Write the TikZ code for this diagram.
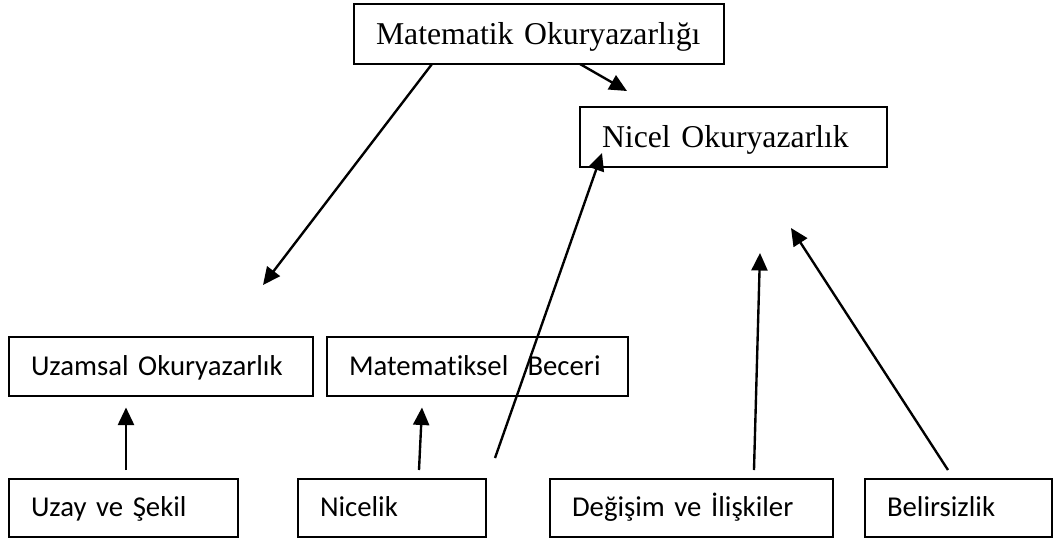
\documentclass[tikz,border=0pt]{standalone}
\usepackage{fontspec}
\setmainfont{Liberation Serif}
\newfontfamily\calibri[Ligatures=NoCommon]{Carlito}
\usepackage{tikz}
\usetikzlibrary{calc}
\usetikzlibrary{arrows.meta}

\begin{document}
\begin{tikzpicture}[x=0.4pt,y=-0.4pt,>={Triangle[length=7pt,width=6.4pt]}]
        \tikzset{kutu/.style={draw, line width=0.8pt, outer sep=0pt, inner xsep=8.8pt, inner ysep=0pt,
                 align=left, anchor=north west, text width=#1},
        ust/.style={minimum height=24pt, text height=11pt, text depth=2.6pt, font=\fontsize{12.7}{15}\selectfont},
        alt/.style={minimum height=23.4pt, text height=9.1pt, text depth=2pt, font=\calibri\fontsize{11.5}{14}\selectfont},
        ok/.style={->, line width=0.95pt}
        }
        \useasboundingbox (0,0) rectangle (1056,542);

        \node [kutu=130.4pt, ust] (mat) at (354,4) {Matematik Okuryazarlığı};
        \node [kutu=105.2pt, ust] (nicel) at (580,107) {Nicel Okuryazarlık};

        \node [kutu=104pt, alt] (uzamsal) at (9,337) {Uzamsal Okuryazarlık};
        \node [kutu=102.8pt, alt] (beceri) at (327,337) {Matematiksel~ Beceri};

        \node [kutu=74pt, alt, minimum height=23.2pt] (uzay) at (9,479) {Uzay ve Şekil};
        \node [kutu=57.6pt, alt, minimum height=23.2pt] (nicelik) at (298,479) {Nicelik};
        \node [kutu=95.6pt, alt, minimum height=23.2pt] (degisim) at (550,479) {Değişim ve İlişkiler};
        \node [kutu=57.2pt, alt, minimum height=23.2pt] (belirsiz) at (865,479) {Belirsizlik};

        \coordinate (ucUzamsal) at (263,285);
        \coordinate (ucNicel) at (627,91);
        \coordinate (ucDegisim) at (760,253);
        \coordinate (ucBelirsiz) at (791,228);

%%% paths
        \draw[ok] ($(mat.south west)+(78,0)$) -- (ucUzamsal);
        \draw[ok] ($(mat.south west)+(226,0)$) -- (ucNicel);
        \draw[ok] ($(nicelik.north east)+(9,-21)$) -- ($(nicel.south west)+(22,-14)$);
        \draw[ok] ($(uzay.north west)+(117,-9)$) -- ($(uzamsal.south west)+(117,12)$);
        \draw[ok] ($(nicelik.north west)+(121,-9)$) -- ($(beceri.south west)+(95,12)$);
        \draw[ok] ($(degisim.north west)+(204,-9)$) -- (ucDegisim);
        \draw[ok] ($(belirsiz.north west)+(83,-9)$) -- (ucBelirsiz);
\end{tikzpicture}
\end{document}
